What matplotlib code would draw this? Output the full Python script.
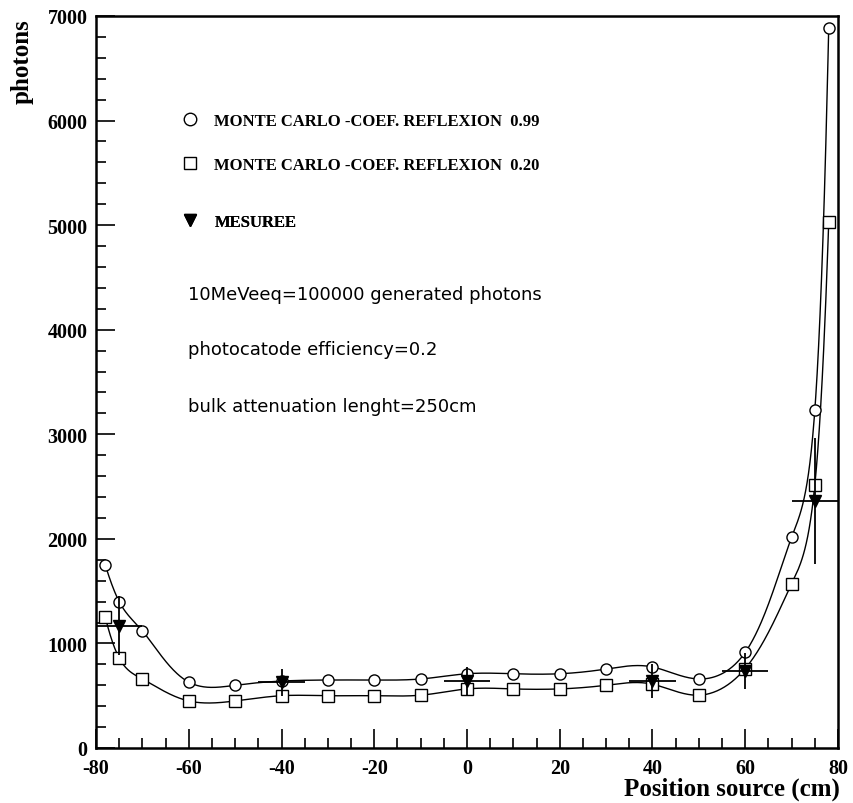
import numpy as np
import matplotlib
matplotlib.use("Agg")
import matplotlib.pyplot as plt
from matplotlib.lines import Line2D
from matplotlib.ticker import MultipleLocator

plt.rcParams["axes.unicode_minus"] = False

# ---------------- data ----------------
x_mc = [-78, -75, -70, -60, -50, -40, -30, -20, -10, 0, 10, 20, 30, 40, 50, 60, 70, 75, 78]
y_r099 = [1750, 1400, 1120, 630, 600, 640, 650, 650, 660, 710, 710, 710, 755, 775, 660, 915, 2015, 3230, 6890]
y_r020 = [1250, 860, 660, 450, 450, 500, 500, 500, 505, 565, 565, 565, 600, 610, 505, 760, 1570, 2515, 5030]

x_meas = [-75, -40, 0, 40, 60, 75]
y_meas = [1170, 630, 640, 640, 735, 2360]
yerr_meas = [280, 130, 130, 160, 170, 600]
xerr_meas = [5, 5, 5, 5, 5, 5]

label_r099 = "MONTE CARLO -COEF. REFLEXION  0.99"
label_r020 = "MONTE CARLO -COEF. REFLEXION  0.20"
label_meas = "MESUREE"
notes = ["10MeVeeq=100000 generated photons",
         "photocatode efficiency=0.2",
         "bulk attenuation lenght=250cm"]


def natural_spline(x, y, xs):
    x = np.asarray(x, float); y = np.asarray(y, float)
    n = len(x)
    h = np.diff(x)
    A = np.zeros((n, n)); b = np.zeros(n)
    A[0, 0] = 1; A[-1, -1] = 1
    for i in range(1, n - 1):
        A[i, i - 1] = h[i - 1]
        A[i, i] = 2 * (h[i - 1] + h[i])
        A[i, i + 1] = h[i]
        b[i] = 6 * ((y[i + 1] - y[i]) / h[i] - (y[i] - y[i - 1]) / h[i - 1])
    M = np.linalg.solve(A, b)
    idx = np.clip(np.searchsorted(x, xs) - 1, 0, n - 2)
    x0 = x[idx]; x1 = x[idx + 1]; hh = x1 - x0
    t0 = x1 - xs; t1 = xs - x0
    return (M[idx] * t0**3 / (6 * hh) + M[idx + 1] * t1**3 / (6 * hh)
            + (y[idx] / hh - M[idx] * hh / 6) * t0
            + (y[idx + 1] / hh - M[idx + 1] * hh / 6) * t1)


def log_spline(x, y, xs):
    return np.exp(natural_spline(x, np.log(np.asarray(y, float)), xs))


serif = ["Liberation Serif", "DejaVu Serif"]

fig = plt.figure(figsize=(8.54, 8.04), dpi=100)
ax = fig.add_axes([96 / 854, 1 - 749 / 804, (838 - 96) / 854, (749 - 17) / 804])

xs = np.linspace(min(x_mc), max(x_mc), 1000)
ax.plot(xs, log_spline(x_mc, y_r099, xs), color="black", lw=1.0)
ax.plot(xs, log_spline(x_mc, y_r020, xs), color="black", lw=1.0)
ax.plot(x_mc, y_r099, ls="none", marker="o", ms=8, mfc="white", mec="black", mew=1.0)
ax.plot(x_mc, y_r020, ls="none", marker="s", ms=8, mfc="white", mec="black", mew=1.0)
ax.errorbar(x_meas, y_meas, yerr=yerr_meas, xerr=xerr_meas, fmt="v", color="black",
            ms=9, elinewidth=1.3, capsize=0)

ax.set_xlim(-80, 80)
ax.set_ylim(0, 7000)
ax.xaxis.set_major_locator(MultipleLocator(20))
ax.xaxis.set_minor_locator(MultipleLocator(5))
ax.yaxis.set_major_locator(MultipleLocator(1000))
ax.yaxis.set_minor_locator(MultipleLocator(200))
ax.tick_params(which="both", direction="in", top=False, right=False, width=1.2)
ax.tick_params(which="major", length=14, pad=6)
ax.tick_params(axis="x", which="major", pad=7)
ax.tick_params(which="minor", length=7)
for s in ax.spines.values():
    s.set_linewidth(1.8)
for lab in ax.get_xticklabels() + ax.get_yticklabels():
    lab.set_fontfamily(serif)
    lab.set_fontweight("bold")
    lab.set_fontsize(14.5)

fig.text(22 / 854, 1 - 62 / 804, "photons", rotation=90, ha="center", va="center",
         family=serif, weight="bold", fontsize=18)
fig.text(840 / 854, 1 - 796 / 804, "Position source (cm)", ha="right", va="baseline",
         family=serif, weight="bold", fontsize=18)

handles = [Line2D([], [], ls="none", marker="o", ms=9, mfc="white", mec="black"),
           Line2D([], [], ls="none", marker="s", ms=9, mfc="white", mec="black"),
           Line2D([], [], ls="none", marker="v", ms=9, color="black")]
labels = [label_r099, label_r020, label_meas]
rows_px = [122, 166, 223]
for h, l, ypx in zip(handles, labels, rows_px):
    lg = ax.legend([h], [l], loc="center left",
                   bbox_to_anchor=((182 - 96) / 742, (749 - ypx) / 732), frameon=False,
                   prop={"family": serif, "weight": "bold", "size": 12},
                   handletextpad=0.95, handlelength=1.0, borderaxespad=0, borderpad=0)
    ax.add_artist(lg)

for t, y_px in zip(notes, [295, 350, 407]):
    fig.text(188 / 854, 1 - y_px / 804, t, ha="left", va="center",
             family=["DejaVu Sans"], weight="normal", fontsize=13, color="black")

fig.savefig("out.png", dpi=100)
